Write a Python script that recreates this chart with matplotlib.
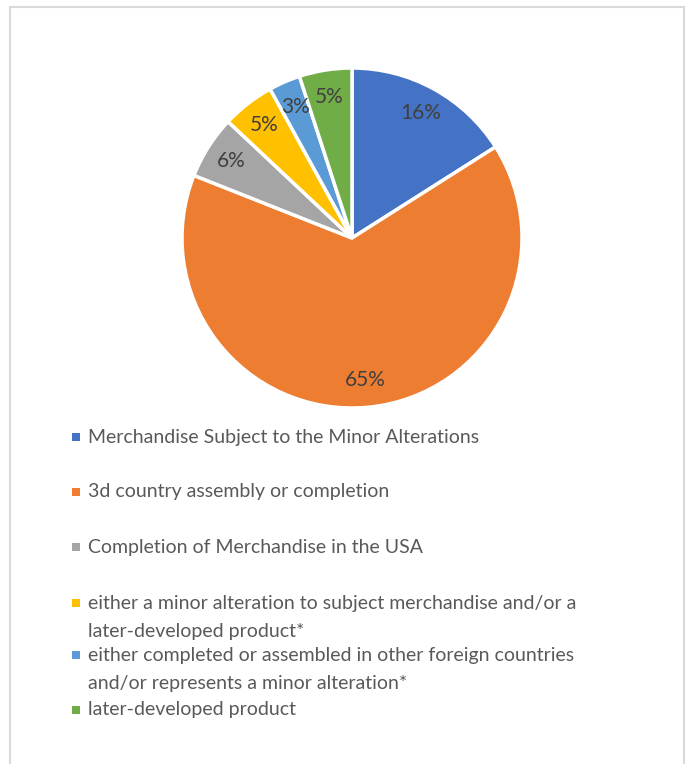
import matplotlib
matplotlib.use("Agg")
import matplotlib.pyplot as plt
from matplotlib.patches import Rectangle

categories = [
    "Merchandise Subject to the Minor Alterations",
    "3d country assembly or completion",
    "Completion of Merchandise in the USA",
    "either a minor alteration to subject merchandise and/or a\nlater-developed product*",
    "either completed or assembled in other foreign countries\nand/or represents a minor alteration*",
    "later-developed product",
]
values = [16, 65, 6, 5, 3, 5]
colors = ["#4472C4", "#ED7D31", "#A5A5A5", "#FFC000", "#5B9BD5", "#70AD47"]

W, H = 686, 764
fig = plt.figure(figsize=(W / 100, H / 100), dpi=100)
plt.rcParams['font.family'] = ['Lato', 'DejaVu Sans']

# Border
fig.patches.append(Rectangle((10 / W, -0.01), (674 / W), 1 - 7 / H + 0.01, transform=fig.transFigure,
                             fill=False, edgecolor="#D9D9D9", linewidth=1.5))

cx, cy, r = 352, 238, 170
ax = fig.add_axes([(cx - r) / W, 1 - (cy + r) / H, 2 * r / W, 2 * r / H])
wedges, texts = ax.pie(values, colors=colors, startangle=90, counterclock=False,
                       labels=[f"{v}%" for v in values], labeldistance=0.84,
                       wedgeprops=dict(edgecolor="white", linewidth=2.5),
                       textprops=dict(color="#404040", fontsize=15))
for t in texts:
    t.set_ha("center")
    t.set_va("center")
ax.set_xlim(-1, 1)
ax.set_ylim(-1, 1)
ax.set_aspect("equal")
ax.axis("off")

# Legend (manual, Excel-like layout)
entry_y = [437, 492, 547, 603, 655, 710]
line_h = 29
for y, lab, c in zip(entry_y, categories, colors):
    fig.patches.append(Rectangle((72 / W, 1 - (y + 4) / H), 8 / W, 8 / H,
                                 transform=fig.transFigure, facecolor=c, edgecolor="none"))
    for i, line in enumerate(lab.split("\n")):
        fig.text(88 / W, 1 - (y + i * line_h) / H, line, ha="left", va="center",
                 fontsize=14, color="#595959")

fig.savefig("out.png", dpi=100, facecolor="white")
